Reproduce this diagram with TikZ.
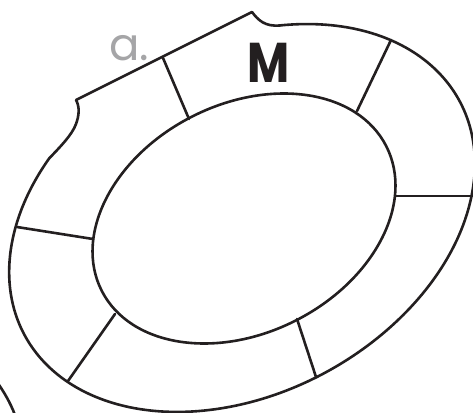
\documentclass[tikz,border=0pt]{standalone}
\usepackage{xcolor}
\usepackage{fontspec}
\setmainfont{Poppins}
\usepackage{tikz}
\usetikzlibrary{positioning}
\definecolor{inkblack}{RGB}{35,31,32}
\definecolor{labelgray}{RGB}{165,165,167}

\tikzset{
  boardline/.style={draw=inkblack, line width=2.6pt, line join=round, line cap=round},
  divider/.style={boardline},
}

\begin{document}
\begin{tikzpicture}[x=1pt, y=-1pt]
  \useasboundingbox (0,0) rectangle (473,412);
  \clip (0,0) rectangle (473,412);

  % inner field
  \draw[boardline, rotate around={26.9:(244,218.5)}] (244,218.5) ellipse [x radius=159.6, y radius=114.4];

  % outer edge, open at the top left
  \begin{scope}[shift={(242,218)}, rotate=28.3]
    \draw[boardline] (-59.6:247 and 175.6) coordinate (edgeR)
      arc[start angle=-59.6, end angle=235, x radius=247, y radius=175.6] coordinate (edgeL);
  \end{scope}
  \coordinate (cornerL) at (76,100);
  \coordinate (cornerR) at (252,12);
  \draw[boardline] (edgeL) .. controls (60,147) and (72,135) .. (76,124)
    .. controls (79,116) and (80,107) .. (cornerL) -- (cornerR)
    .. controls (258,20) and (265,27) .. (edgeR);

  % dividers
  \draw[divider] (163,58) -- (189,119);
  \draw[divider] (391,40) -- (357,111);
  \draw[divider] (395,196) -- (475,196);
  \draw[divider] (297,319) -- (316,377);
  \draw[divider] (115,314) -- (68,381);
  \draw[divider] (17,227) -- (93,239);

  % next board, cut off
  \draw[boardline] (-3,382) .. controls (4,392) and (10,402) .. (15,415);

  % labels
  \node[anchor=base west, inner sep=0pt, text=labelgray, font=\fontsize{45}{45}\selectfont] (tag) at (109,60) {a.};
  \node[anchor=base, inner sep=0pt, text=inkblack, xscale=0.82, transform shape,
        font=\fontsize{56}{56}\selectfont\bfseries] (mark) at (269,82) {M};
\end{tikzpicture}
\end{document}
